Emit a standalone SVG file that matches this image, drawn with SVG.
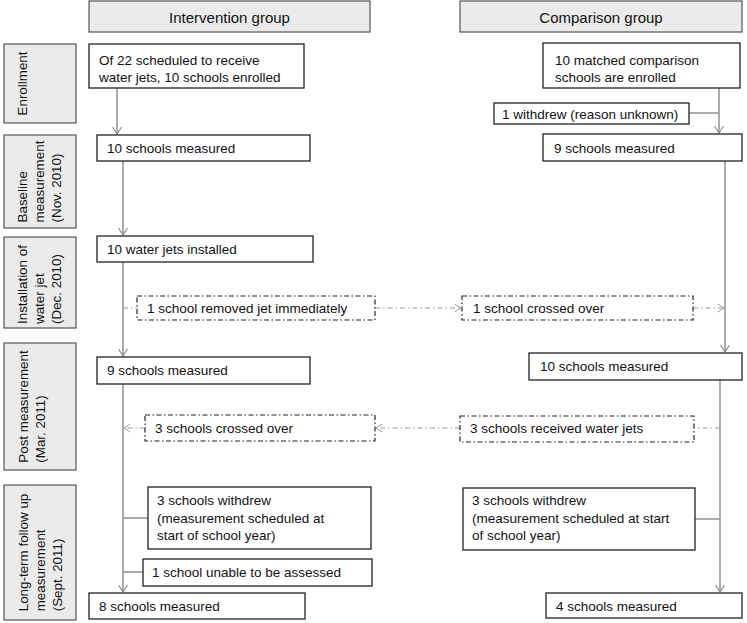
<svg xmlns="http://www.w3.org/2000/svg" width="747" height="623" viewBox="0 0 747 623">
<style>
text{font-family:"Liberation Sans",Arial,sans-serif;fill:#111}
.node{font-size:13.5px}
.hdr{font-size:15px;text-anchor:middle}
.lbl{font-size:13.4px}
.box{fill:#fff;stroke:#222;stroke-width:1.3}
.dbox{fill:#fff;stroke:#222;stroke-width:1.2;stroke-dasharray:5 2.5 1.5 2.5}
.gbox{fill:#ebebeb;stroke:#555;stroke-width:1.2}
.ln{fill:none;stroke:#8f8f8f;stroke-width:1.5}
.dl{fill:none;stroke:#9a9a9a;stroke-width:1.1;stroke-dasharray:5 3 1.5 3}
</style>
<defs>
<marker id="ah" viewBox="0 0 8 10" refX="7.5" refY="5" markerWidth="8" markerHeight="10" markerUnits="userSpaceOnUse" orient="auto">
<path d="M0.5,0.5 L7.5,5 L0.5,9.5" fill="none" stroke="#8f8f8f" stroke-width="1.2"/>
</marker>
<marker id="ahd" viewBox="0 0 8 10" refX="7.5" refY="5" markerWidth="7" markerHeight="9" markerUnits="userSpaceOnUse" orient="auto">
<path d="M0.5,0.5 L7.5,5 L0.5,9.5" fill="none" stroke="#9a9a9a" stroke-width="1.1"/>
</marker>
</defs>

<g id="headers">
<g id="hdr-intervention"><rect class="gbox" x="89" y="1" width="281" height="31"/><text class="hdr" x="229.5" y="22.5">Intervention group</text></g>
<g id="hdr-comparison"><rect class="gbox" x="460" y="1" width="282" height="31"/><text class="hdr" x="601" y="22.5">Comparison group</text></g>
</g>

<g id="labels">
<g id="lbl-enrollment"><rect class="gbox" x="4" y="44" width="72" height="79"/>
<text class="lbl" transform="translate(27,115.5) rotate(-90)">Enrollment</text></g>
<g id="lbl-baseline"><rect class="gbox" x="4" y="135" width="72" height="93"/>
<text class="lbl" transform="translate(27,222.5) rotate(-90)"><tspan x="0" y="0">Baseline</tspan><tspan x="0" y="17">measurement</tspan><tspan x="0" y="34">(Nov. 2010)</tspan></text></g>
<g id="lbl-installation"><rect class="gbox" x="4" y="237" width="72" height="91"/>
<text class="lbl" transform="translate(27,324) rotate(-90)"><tspan x="0" y="0">Installation of</tspan><tspan x="0" y="17">water jet</tspan><tspan x="0" y="34">(Dec. 2010)</tspan></text></g>
<g id="lbl-post"><rect class="gbox" x="4" y="343" width="72" height="127"/>
<text class="lbl" transform="translate(28,462.7) rotate(-90)"><tspan x="0" y="0">Post measurement</tspan><tspan x="0" y="17">(Mar. 2011)</tspan></text></g>
<g id="lbl-longterm"><rect class="gbox" x="4" y="485" width="72" height="135"/>
<text class="lbl" transform="translate(28,611.3) rotate(-90)"><tspan x="0" y="0">Long-term follow up</tspan><tspan x="0" y="17">measurement</tspan><tspan x="0" y="34">(Sept. 2011)</tspan></text></g>
</g>

<g id="connectors">
<path class="ln" d="M117,88 V134" marker-end="url(#ah)"/>
<path class="ln" d="M123,161 V235" marker-end="url(#ah)"/>
<path class="ln" d="M123,262 V356" marker-end="url(#ah)"/>
<path class="ln" d="M123,384 V592" marker-end="url(#ah)"/>
<path class="ln" d="M123,518 H148"/>
<path class="ln" d="M123,572 H143"/>
<path class="dl" d="M123,308 H137"/>
<path class="dl" d="M375,308 H461" marker-end="url(#ahd)"/>
<path class="dl" d="M693,308 H724" marker-end="url(#ahd)"/>
<path class="dl" d="M145,428 H124" marker-end="url(#ahd)"/>
<path class="dl" d="M720,428 H694"/>
<path class="dl" d="M460,428 H376" marker-end="url(#ahd)"/>
<path class="ln" d="M719,88 V133" marker-end="url(#ah)"/>
<path class="ln" d="M689,113 H719"/>
<path class="ln" d="M725,161 V352" marker-end="url(#ah)"/>
<path class="ln" d="M720,380 V592" marker-end="url(#ah)"/>
<path class="ln" d="M695,519 H720"/>
</g>

<g id="int-enrolled"><rect class="box" x="89" y="44" width="215" height="44"/><text class="node" x="99" y="65">Of 22 scheduled to receive</text><text class="node" x="99" y="81.5">water jets, 10 schools enrolled</text></g>
<g id="int-baseline"><rect class="box" x="97" y="135" width="213" height="26"/><text class="node" x="107" y="152.5">10 schools measured</text></g>
<g id="int-installed"><rect class="box" x="97" y="236" width="216" height="26"/><text class="node" x="107" y="253.5">10 water jets installed</text></g>
<g id="int-removed"><rect class="dbox" x="137" y="296" width="238" height="24"/><text class="node" x="147" y="313">1 school removed jet immediately</text></g>
<g id="int-post"><rect class="box" x="97" y="357" width="213" height="27"/><text class="node" x="107" y="375">9 schools measured</text></g>
<g id="int-crossed"><rect class="dbox" x="145" y="415" width="230" height="26"/><text class="node" x="155" y="432.5">3 schools crossed over</text></g>
<g id="int-withdrew"><rect class="box" x="148" y="487" width="223" height="62"/><text class="node" x="157" y="505">3 schools withdrew</text><text class="node" x="157" y="522.5">(measurement scheduled at</text><text class="node" x="157" y="540">start of school year)</text></g>
<g id="int-unable"><rect class="box" x="143" y="559" width="229" height="27"/><text class="node" x="152" y="577">1 school unable to be assessed</text></g>
<g id="int-final"><rect class="box" x="89" y="593" width="216" height="26"/><text class="node" x="99" y="611">8 schools measured</text></g>

<g id="cmp-enrolled"><rect class="box" x="543" y="43" width="197" height="45"/><text class="node" x="555" y="65">10 matched comparison</text><text class="node" x="555" y="81.5">schools are enrolled</text></g>
<g id="cmp-withdrew1"><rect class="box" x="494" y="103" width="195" height="21"/><text class="node" x="502" y="118.5">1 withdrew (reason unknown)</text></g>
<g id="cmp-baseline"><rect class="box" x="543" y="134" width="199" height="27"/><text class="node" x="554" y="152.5">9 schools measured</text></g>
<g id="cmp-crossed"><rect class="dbox" x="462" y="296" width="231" height="24"/><text class="node" x="473" y="313">1 school crossed over</text></g>
<g id="cmp-post"><rect class="box" x="529" y="353" width="213" height="27"/><text class="node" x="540" y="371">10 schools measured</text></g>
<g id="cmp-received"><rect class="dbox" x="460" y="416" width="234" height="26"/><text class="node" x="470" y="432.5">3 schools received water jets</text></g>
<g id="cmp-withdrew3"><rect class="box" x="463" y="488" width="232" height="62"/><text class="node" x="472" y="505">3 schools withdrew</text><text class="node" x="472" y="522.5">(measurement scheduled at start</text><text class="node" x="472" y="540">of school year)</text></g>
<g id="cmp-final"><rect class="box" x="546" y="593" width="196" height="25"/><text class="node" x="556" y="611">4 schools measured</text></g>
</svg>
